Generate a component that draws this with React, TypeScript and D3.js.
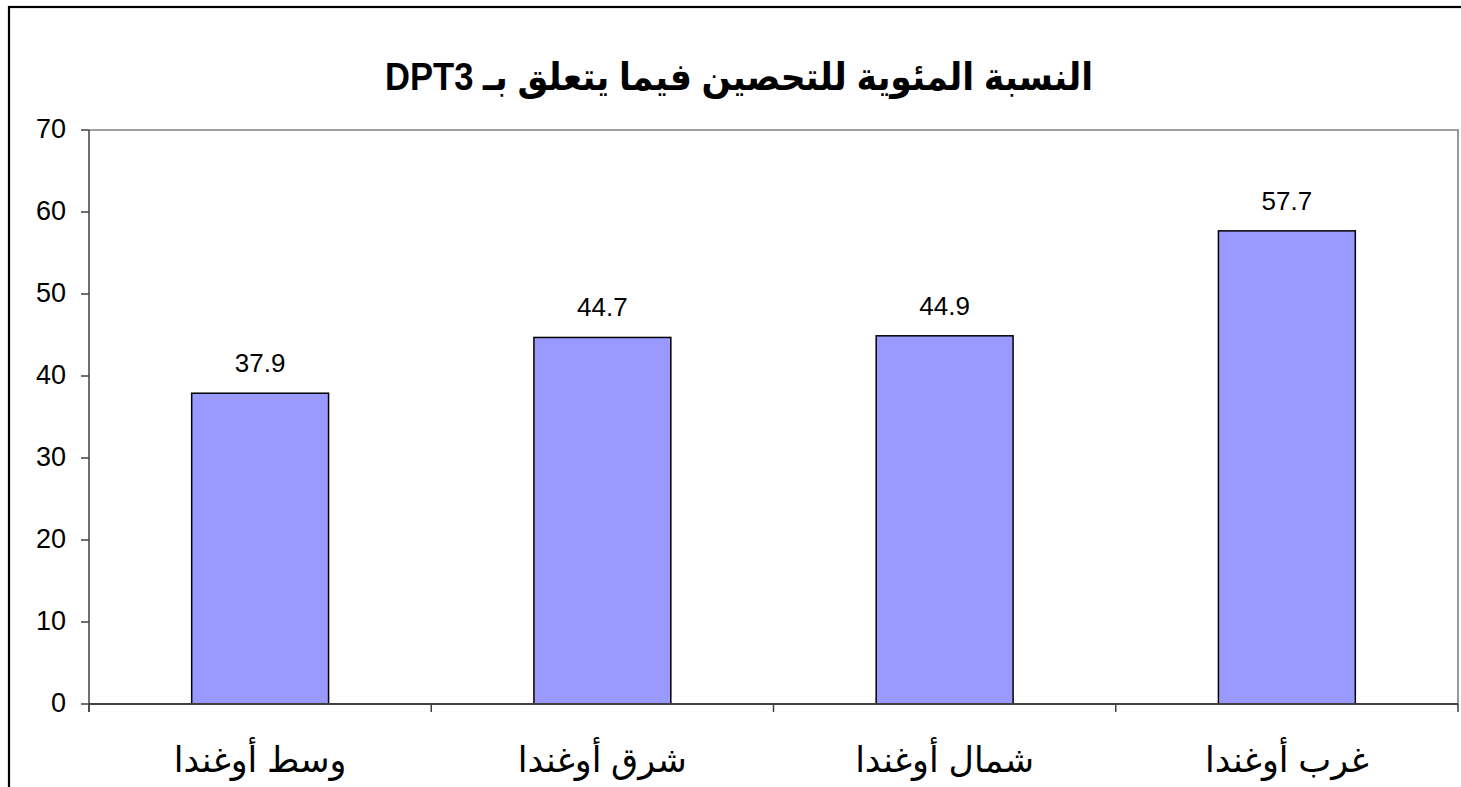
import React from "react";
import * as d3 from "d3";

const categories = ["وسط أوغندا", "شرق أوغندا", "شمال أوغندا", "غرب أوغندا"];
const values = [37.9, 44.7, 44.9, 57.7];
const yTicks = [0, 10, 20, 30, 40, 50, 60, 70];
const title = "النسبة المئوية للتحصين فيما يتعلق بـ DPT3";

const W = 1461;
const H = 787;
const left = 89;
const right = 1458;
const top = 130;
const bottom = 704;

export default function App() {
  const x = d3.scaleBand<string>().domain(categories).range([left, right]).paddingInner(0.6).paddingOuter(0.3);
  const xOuter = d3.scaleBand<string>().domain(categories).range([left, right]);
  const y = d3.scaleLinear().domain([0, 70]).range([bottom, top]);
  const font = "'Liberation Sans', Arial, 'DejaVu Sans', sans-serif";
  const bw = x.bandwidth();
  const boundaries = [...categories.map((c) => xOuter(c) as number), right];

  return (
    <div style={{ position: "absolute", left: 0, top: 0 }}>
      <svg width={W} height={H} style={{ display: "block" }}>
        <rect x={0} y={0} width={W} height={H} fill="#fff" />
        <rect x={9} y={7} width={1460} height={800} fill="#fff" stroke="#000" strokeWidth={2.2} />
        <text
          x={739}
          y={90}
          textAnchor="middle"
          direction="rtl"
          fontFamily={font}
          fontWeight="bold"
          fontSize={38}
          textLength={708}
          lengthAdjust="spacingAndGlyphs"
          fill="#000"
        >
          {title}
        </text>
        {/* plot area border */}
        <path d={`M${left},${top}H${right}V${bottom}`} fill="none" stroke="#808080" strokeWidth={1.6} />
        {/* bars */}
        {categories.map((c, i) => (
          <rect
            key={c}
            x={x(c)}
            y={y(values[i])}
            width={bw}
            height={bottom - y(values[i])}
            fill="#9999FF"
            stroke="#000"
            strokeWidth={1.5}
          />
        ))}
        {categories.map((c, i) => (
          <text
            key={"v" + c}
            x={(x(c) as number) + bw / 2}
            y={y(values[i]) - 21}
            textAnchor="middle"
            fontFamily={font}
            fontSize={26}
            fill="#000"
          >
            {values[i].toFixed(1)}
          </text>
        ))}
        {/* y axis */}
        <line x1={left} x2={left} y1={top} y2={bottom + 8} stroke="#404040" strokeWidth={1.5} />
        {yTicks.map((t) => (
          <g key={t}>
            <line x1={left - 8} x2={left} y1={y(t)} y2={y(t)} stroke="#404040" strokeWidth={1.5} />
            <text
              x={66}
              y={y(t) + 7.5}
              textAnchor="end"
              fontFamily={font}
              fontSize={27}
              fill="#000"
            >
              {t}
            </text>
          </g>
        ))}
        {/* x axis */}
        <line x1={left} x2={right} y1={bottom} y2={bottom} stroke="#404040" strokeWidth={2} />
        {boundaries.map((b, i) => (
          <line key={"t" + i} x1={b} x2={b} y1={bottom} y2={bottom + 8} stroke="#404040" strokeWidth={1.5} />
        ))}
        {categories.map((c) => (
          <text
            key={"c" + c}
            x={(xOuter(c) as number) + xOuter.bandwidth() / 2}
            y={772}
            textAnchor="middle"
            direction="rtl"
            fontFamily={font}
            fontSize={35}
            fill="#000"
          >
            {c}
          </text>
        ))}
      </svg>
    </div>
  );
}
